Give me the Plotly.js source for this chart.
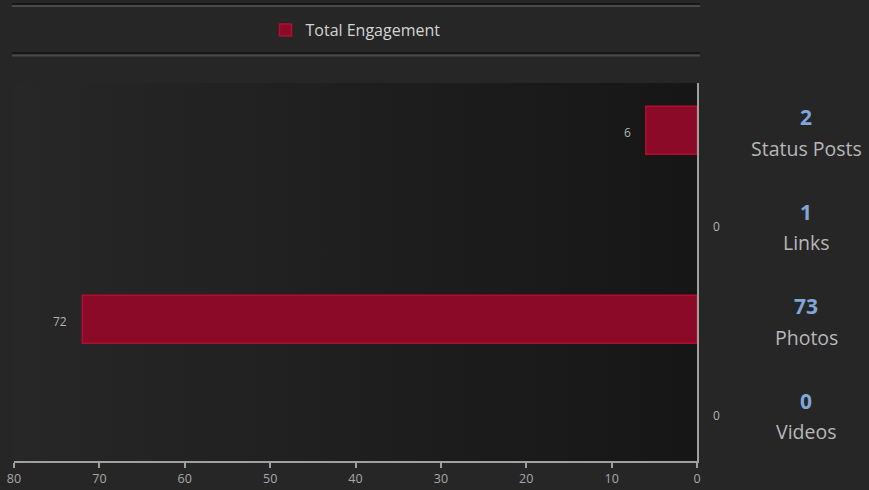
<!DOCTYPE html>
<html>
<head>
<meta charset="utf-8">
<script src="https://cdn.plot.ly/plotly-3.0.1.min.js"></script>
<style>
html,body{margin:0;padding:0;background:#262626;}
#chart{width:869px;height:490px;}
</style>
</head>
<body>
<div id="chart"></div>
<script>
// Data
const categories = ["Status Posts", "Links", "Photos", "Videos"];
const engagement = [6, 0, 72, 0];
const postCounts = [2, 1, 73, 0];
const seriesName = "Total Engagement";
const xTicks = [0, 10, 20, 30, 40, 50, 60, 70, 80];

const bgSvg = '<svg xmlns="http://www.w3.org/2000/svg" width="100" height="100" preserveAspectRatio="none">' +
  '<defs><linearGradient id="g" x1="0" y1="0" x2="1" y2="0">' +
  '<stop offset="0" stop-color="#272727"/><stop offset="1" stop-color="#161616"/></linearGradient></defs>' +
  '<rect width="100" height="100" fill="url(#g)"/></svg>';
const bgUri = 'data:image/svg+xml;base64,' + btoa(bgSvg);

const trace = {
  type: 'bar',
  orientation: 'h',
  name: seriesName,
  y: categories,
  x: engagement,
  marker: {color: '#8a0a27', line: {color: '#b30c31', width: engagement.map(v => v === 0 ? 0 : 1.5)}},
  hoverinfo: 'x+y',
  showlegend: true
};

const annotations = [];
categories.forEach((c, i) => {
  const v = engagement[i];
  annotations.push({
    x: v, y: c, xref: 'x', yref: 'y',
    text: String(v), showarrow: false,
    xanchor: v === 0 ? 'left' : 'right',
    xshift: v === 0 ? 14 : -13, yshift: -2,
    font: {family: 'Open Sans, sans-serif', size: 12, color: '#b4b4b4'}
  });
  annotations.push({
    x: 1, y: c, xref: 'paper', yref: 'y',
    text: '<b>' + postCounts[i] + '</b>', showarrow: false,
    xanchor: 'center', xshift: 109, yshift: 13,
    font: {family: 'Open Sans, sans-serif', size: 21, color: '#7fa7d9'}
  });
  annotations.push({
    x: 1, y: c, xref: 'paper', yref: 'y',
    text: c, showarrow: false,
    xanchor: 'center', xshift: 109, yshift: -18,
    font: {family: 'Open Sans, sans-serif', size: 19.5, color: '#b8b8b8'}
  });
});

const layout = {
  width: 869, height: 490,
  paper_bgcolor: '#262626',
  plot_bgcolor: 'rgba(0,0,0,0)',
  margin: {l: 14, r: 172, t: 83, b: 29},
  bargap: 0.49,
  font: {family: 'Open Sans, sans-serif', color: '#a8a8a8'},
  xaxis: {
    range: [80, 0], tickvals: xTicks, showgrid: false, zeroline: false,
    showline: true, linecolor: '#a0a0a0', linewidth: 2,
    ticks: 'outside', ticklen: 5, tickcolor: '#a0a0a0', tickwidth: 2,
    tickfont: {size: 12.5, color: '#a8a8a8'}, fixedrange: true
  },
  yaxis: {
    categoryorder: 'array', categoryarray: categories, autorange: 'reversed',
    side: 'right', showline: true, linecolor: '#a0a0a0', linewidth: 2,
    showticklabels: false, showgrid: false, zeroline: false, ticks: '', fixedrange: true
  },
  legend: {
    orientation: 'h', x: 0.5, xanchor: 'center', y: 1 + 53/378, yanchor: 'middle',
    font: {size: 16, color: '#d4d4d4'}, bgcolor: 'rgba(0,0,0,0)',
    itemwidth: 30
  },
  images: [{
    source: bgUri, xref: 'paper', yref: 'paper', x: 0, y: 1, sizex: 1, sizey: 1,
    sizing: 'stretch', layer: 'below', xanchor: 'left', yanchor: 'top'
  }],
  shapes: [
    {type: 'line', xref: 'paper', yref: 'paper', x0: -2/683, x1: 686/683, y0: 1 + 79/378, y1: 1 + 79/378, line: {color: '#121212', width: 1.5}},
    {type: 'line', xref: 'paper', yref: 'paper', x0: -2/683, x1: 686/683, y0: 1 + 77/378, y1: 1 + 77/378, line: {color: '#4a4a4a', width: 2}},
    {type: 'line', xref: 'paper', yref: 'paper', x0: -2/683, x1: 686/683, y0: 1 + 30/378, y1: 1 + 30/378, line: {color: '#121212', width: 1.5}},
    {type: 'line', xref: 'paper', yref: 'paper', x0: -2/683, x1: 686/683, y0: 1 + 27.5/378, y1: 1 + 27.5/378, line: {color: '#4a4a4a', width: 2}}
  ],
  annotations: annotations
};

Plotly.newPlot('chart', [trace], layout, {displayModeBar: false, staticPlot: true});
</script>
</body>
</html>
